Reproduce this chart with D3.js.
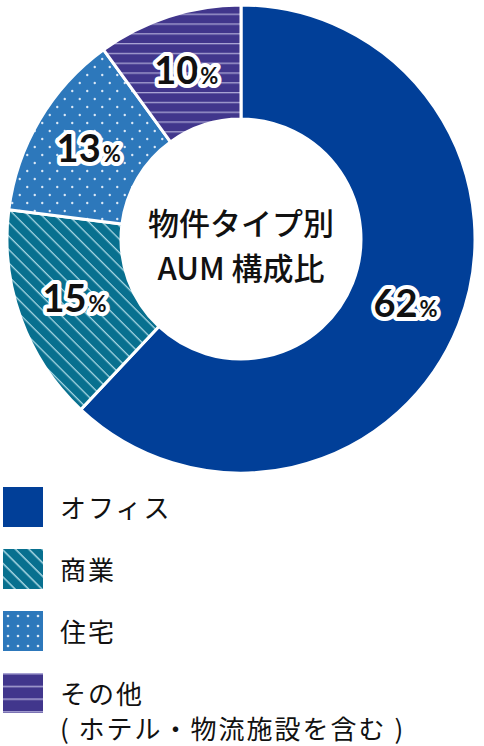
<!DOCTYPE html>
<html>
<head>
<meta charset="utf-8">
<script src="https://cdn.jsdelivr.net/npm/d3@7"></script>
<style>
  html, body { margin: 0; padding: 0; background: #fff; }
  svg { display: block; }
</style>
</head>
<body>
<div id="chart"></div>
<script>
// data
const categories = ["オフィス", "商業", "住宅", "その他"]
const values = [62, 15, 13, 10]
const legendNotes = ["", "", "", "( ホテル・物流施設を含む )"]
const centerTitle = ["物件タイプ別", "AUM 構成比"]

const width = 484
const height = 746

const cx = 241
const cy = 239
const outerR = 234
const innerR = 120

const svg = d3.select("#chart")
  .append("svg")
  .attr("width", width)
  .attr("height", height)

const defs = svg.append("defs")

// fill patterns, one per category (pie version + legend version)
function linePattern (id, base, lineColor, gap, lineW, angle) {
  const p = defs.append("pattern")
    .attr("id", id)
    .attr("patternUnits", "userSpaceOnUse")
    .attr("width", 20)
    .attr("height", gap)
    .attr("patternTransform", `rotate(${angle})`)
  p.append("rect").attr("width", 20).attr("height", gap).attr("fill", base)
  p.append("rect").attr("y", 0).attr("width", 20).attr("height", lineW).attr("fill", lineColor)
}

function dotPattern (id, base, dotColor, w, h, r, stagger) {
  const p = defs.append("pattern")
    .attr("id", id)
    .attr("patternUnits", "userSpaceOnUse")
    .attr("width", w)
    .attr("height", h)
  p.append("rect").attr("width", w).attr("height", h).attr("fill", base)
  const pts = stagger ? [[w / 4, h / 4], [w * 3 / 4, h * 3 / 4]] : [[w / 2, h / 2]]
  pts.forEach(d => p.append("circle").attr("cx", d[0]).attr("cy", d[1]).attr("r", r).attr("fill", dotColor))
}

linePattern("pie-shop", "#08708f", "#a9d8e4", 9.5, 1.3, 45)
dotPattern("pie-home", "#2d78bb", "#dce9f6", 15, 16, 1.2, true)
linePattern("pie-other", "#41368c", "#a9a4d3", 9.8, 1.3, 0)

linePattern("lg-shop", "#08708f", "#a9d8e4", 9.5, 1.5, 45)
dotPattern("lg-home", "#2d78bb", "#dce9f6", 10, 10, 1.3, false)
linePattern("lg-other", "#41368c", "#a9a4d3", 12.7, 1.5, 0)

const pieFill = ["#013f98", "url(#pie-shop)", "url(#pie-home)", "url(#pie-other)"]
const legendFill = ["#013f98", "url(#lg-shop)", "url(#lg-home)", "url(#lg-other)"]

const color = d3.scaleOrdinal().domain(categories).range(pieFill)
const legendColor = d3.scaleOrdinal().domain(categories).range(legendFill)

const data = categories.map((c, i) => ({ name: c, value: values[i], note: legendNotes[i] }))

const pie = d3.pie()
  .sort(null)
  .value(d => d.value)

const arc = d3.arc()
  .innerRadius(innerR)
  .outerRadius(outerR)

const labelArc = d3.arc()
  .innerRadius((innerR + outerR) / 2)
  .outerRadius((innerR + outerR) / 2)

const arcs = pie(data)

const g = svg.append("g")
  .attr("transform", `translate(${cx},${cy})`)

g.selectAll("path")
  .data(arcs)
  .join("path")
    .attr("d", arc)
    .attr("fill", d => color(d.data.name))
    .attr("stroke", "#fff")
    .attr("stroke-width", 3)

// percent labels with white halo
const labels = g.selectAll("text.pct")
  .data(arcs)
  .join("text")
    .attr("class", "pct")
    .attr("transform", d => {
      const [x, y] = labelArc.centroid(d)
      return `translate(${x},${y + 13})`
    })
    .attr("text-anchor", "middle")
    .attr("font-family", "Lato, 'Noto Sans', sans-serif")
    .attr("font-weight", 700)
    .attr("fill", "#111")
    .attr("stroke", "#fff")
    .attr("stroke-width", 8)
    .attr("stroke-linejoin", "round")
    .attr("paint-order", "stroke")

labels.append("tspan")
  .attr("font-size", 38)
  .text(d => d.data.value)

labels.append("tspan")
  .attr("font-size", 22)
  .attr("dx", 2)
  .text("%")

// centre title
g.append("text")
  .attr("text-anchor", "middle")
  .attr("font-family", "'Noto Sans CJK JP', sans-serif")
  .attr("font-weight", 500)
  .attr("font-size", 31)
  .attr("fill", "#111")
  .selectAll("tspan")
  .data(centerTitle)
  .join("tspan")
    .attr("x", 0)
    .attr("y", (d, i) => -4 + i * 45)
    .text(d => d)

// legend
const legendY = d3.scaleBand()
  .domain(categories)
  .range([487, 735])

const legend = svg.append("g")
  .selectAll("g")
  .data(data)
  .join("g")
    .attr("transform", d => `translate(3,${legendY(d.name)})`)

legend.append("rect")
  .attr("width", 40)
  .attr("height", 40)
  .attr("fill", d => legendColor(d.name))

const legendText = legend.append("text")
  .attr("font-family", "'Noto Sans CJK JP', sans-serif")
  .attr("font-size", 26)
  .attr("letter-spacing", 2)
  .attr("fill", "#111")

legendText.append("tspan")
  .attr("x", 57)
  .attr("y", 31)
  .text(d => d.name)

legendText.filter(d => d.note)
  .append("tspan")
    .attr("x", 57)
    .attr("y", 66)
    .text(d => d.note)
</script>
</body>
</html>
